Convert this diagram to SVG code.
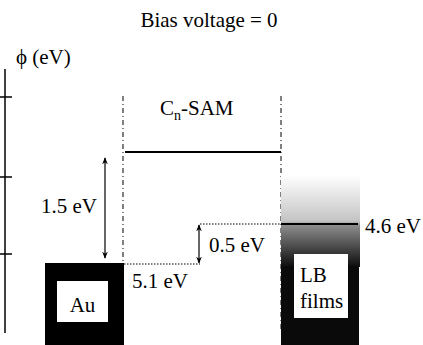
<svg xmlns="http://www.w3.org/2000/svg" width="423" height="345" viewBox="0 0 423 345">
<style>
text{font-family:"Liberation Serif","Times New Roman",serif;font-size:21px;fill:#000}
.dd{stroke:#000;stroke-width:1;stroke-dasharray:5 3 1 3;fill:none}
.dot{stroke:#000;stroke-width:1;stroke-dasharray:1.5 1.5;fill:none}
.ln{stroke:#000;stroke-width:2;fill:none}
.ar{stroke:#000;stroke-width:1.2;fill:none}
</style>
<defs>
<marker id="ah" viewBox="0 0 10 10" refX="9" refY="5" markerWidth="7" markerHeight="7" orient="auto-start-reverse" markerUnits="userSpaceOnUse">
<path d="M0,1 L10,5 L0,9 L3,5 Z" fill="#000"/>
</marker>
<linearGradient id="lbg" x1="0" y1="0" x2="0" y2="1">
<stop offset="0" stop-color="#ffffff"/>
<stop offset="0.5" stop-color="#c4c4c4"/>
<stop offset="0.55" stop-color="#8c8c8c"/>
<stop offset="1" stop-color="#0c0c0c"/>
</linearGradient>
</defs>
<g id="title"><text x="209" y="27" text-anchor="middle">Bias voltage = 0</text></g>
<g id="axis">
<line x1="5" y1="69" x2="5" y2="333" stroke="#000" stroke-width="1.5"/>
<line x1="0" y1="97" x2="12" y2="97" stroke="#000" stroke-width="1.5"/>
<line x1="0" y1="177" x2="12" y2="177" stroke="#000" stroke-width="1.5"/>
<line x1="0" y1="254" x2="12" y2="254" stroke="#000" stroke-width="1.5"/>
<text x="16" y="64">ϕ (eV)</text>
</g>
<g id="sam">
<line class="dd" x1="123" y1="96" x2="123" y2="264"/>
<line class="dd" x1="281" y1="96" x2="281" y2="332"/>
<line class="ln" x1="125" y1="152" x2="281" y2="152"/>
<text x="160" y="115">C<tspan font-size="14" dy="5">n</tspan><tspan dy="-5">-SAM</tspan></text>
</g>
<g id="au">
<rect x="45" y="263" width="79" height="82" fill="#000"/>
<rect x="57" y="281" width="51" height="41" fill="#fff"/>
<text x="82.5" y="312" text-anchor="middle">Au</text>
<text x="132" y="288">5.1 eV</text>
</g>
<g id="lb">
<rect x="281" y="175" width="79" height="92" fill="url(#lbg)"/>
<rect x="281" y="266" width="78" height="79" fill="#0a0a0a"/>
<line class="ln" x1="281" y1="224" x2="358" y2="224"/>
<rect x="294" y="254" width="54" height="64" fill="#fff"/>
<text x="300" y="282">LB</text>
<text x="300" y="308">films</text>
<text x="365" y="233">4.6 eV</text>
</g>
<g id="connectors">
<line class="dot" x1="124" y1="264" x2="200" y2="264"/>
<line class="dot" x1="200" y1="224" x2="281" y2="224"/>
<line class="ar" x1="105" y1="158" x2="105" y2="258" marker-start="url(#ah)" marker-end="url(#ah)"/>
<line class="ar" x1="199" y1="225" x2="199" y2="263" marker-start="url(#ah)" marker-end="url(#ah)"/>
<text x="41" y="213">1.5 eV</text>
<text x="209" y="252">0.5 eV</text>
</g>
</svg>
